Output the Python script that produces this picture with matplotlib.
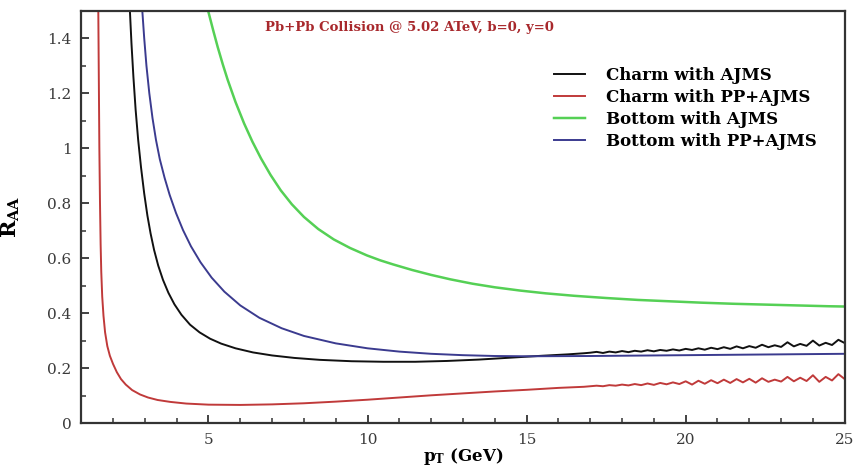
import numpy as np
import matplotlib
matplotlib.use('Agg')
from matplotlib import pyplot as plt
from matplotlib.ticker import MultipleLocator, FuncFormatter

plt.rcParams['font.family'] = ['DejaVu Serif']
plt.rcParams['mathtext.fontset'] = 'dejavuserif'

# Charm with AJMS
charm_ajms_pt = [2.50, 2.53, 2.58, 2.64, 2.71, 2.79, 2.88, 2.98, 3.08, 3.18,
                 3.29, 3.42, 3.57, 3.74, 3.93, 4.15, 4.42, 4.72, 5.05, 5.40,
                 5.85, 6.40, 7.0, 7.7, 8.5, 9.5, 10.5, 11.5, 12.5, 13.5, 14.5,
                 15.5, 16.3, 16.8]
charm_ajms_raa = [1.60, 1.50, 1.38, 1.26, 1.14, 1.03, 0.93, 0.835, 0.755,
                  0.69, 0.63, 0.573, 0.521, 0.474, 0.432, 0.394, 0.358, 0.330,
                  0.307, 0.289, 0.272, 0.257, 0.246, 0.237, 0.230, 0.225,
                  0.223, 0.223, 0.226, 0.231, 0.238, 0.245, 0.250, 0.254]

# Charm with PP+AJMS
charm_pp_pt = [1.53, 1.55, 1.57, 1.59, 1.61, 1.63, 1.66, 1.70, 1.75, 1.82,
               1.90, 2.00, 2.12, 2.25, 2.40, 2.60, 2.85, 3.10, 3.40, 3.80,
               4.30, 5.00, 6.0, 7.0, 8.0, 9.0, 10.0, 11.0, 12.0, 13.0, 14.0,
               15.0, 16.0, 16.8]
charm_pp_raa = [1.60, 1.30, 1.00, 0.80, 0.65, 0.55, 0.46, 0.39, 0.33, 0.28,
                0.245, 0.215, 0.185, 0.160, 0.140, 0.120, 0.104, 0.093, 0.084,
                0.077, 0.071, 0.067, 0.066, 0.068, 0.072, 0.078, 0.085, 0.093,
                0.101, 0.108, 0.115, 0.121, 0.128, 0.132]

# high-pT tails, 17 to 25 GeV
tail_pt = np.round(np.arange(17.0, 25.01, 0.2), 1)
charm_ajms_tail = [0.256, 0.259, 0.255, 0.260, 0.257, 0.262, 0.258, 0.263,
                   0.260, 0.265, 0.261, 0.266, 0.263, 0.268, 0.264, 0.270,
                   0.266, 0.272, 0.267, 0.274, 0.269, 0.276, 0.270, 0.279,
                   0.272, 0.280, 0.274, 0.285, 0.276, 0.283, 0.277, 0.294,
                   0.279, 0.288, 0.281, 0.300, 0.282, 0.292, 0.284, 0.303,
                   0.291]
charm_pp_tail = [0.134, 0.136, 0.134, 0.138, 0.136, 0.140, 0.137, 0.142,
                 0.138, 0.144, 0.139, 0.146, 0.141, 0.148, 0.142, 0.152,
                 0.140, 0.154, 0.143, 0.156, 0.145, 0.158, 0.146, 0.160,
                 0.148, 0.161, 0.147, 0.163, 0.150, 0.158, 0.151, 0.168,
                 0.152, 0.165, 0.153, 0.174, 0.150, 0.168, 0.155, 0.178,
                 0.160]

# Bottom with AJMS
bottom_ajms_pt = [4.93, 5.00, 5.15, 5.29, 5.45, 5.60, 5.85, 6.12, 6.38, 6.65,
                  6.95, 7.27, 7.62, 8.00, 8.45, 8.94, 9.45, 9.98, 10.4, 10.81,
                  11.4, 12.0, 12.6, 13.3, 14.0, 14.8, 15.6, 16.5, 17.5, 18.5,
                  19.5, 20.5, 21.5, 22.5, 23.5, 24.5, 25.0]
bottom_ajms_raa = [1.53, 1.495, 1.428, 1.368, 1.305, 1.250, 1.168, 1.090,
                   1.024, 0.963, 0.903, 0.847, 0.796, 0.750, 0.706, 0.668,
                   0.637, 0.610, 0.592, 0.577, 0.557, 0.539, 0.523, 0.507,
                   0.494, 0.482, 0.472, 0.463, 0.455, 0.448, 0.443, 0.438,
                   0.434, 0.431, 0.428, 0.425, 0.424]

# Bottom with PP+AJMS
bottom_pp_pt = [2.88, 2.92, 2.98, 3.05, 3.14, 3.24, 3.35, 3.47, 3.62, 3.78,
                3.98, 4.20, 4.45, 4.75, 5.10, 5.50, 6.00, 6.60, 7.30, 8.00,
                9.00, 10.0, 11.0, 12.0, 13.0, 14.0, 15.0, 17.0, 19.0, 21.0,
                23.0, 25.0]
bottom_pp_raa = [1.60, 1.50, 1.40, 1.30, 1.20, 1.11, 1.03, 0.96, 0.8925,
                 0.830, 0.764, 0.702, 0.643, 0.585, 0.529, 0.478, 0.428,
                 0.383, 0.345, 0.317, 0.290, 0.272, 0.260, 0.252, 0.247,
                 0.244, 0.243, 0.244, 0.246, 0.248, 0.250, 0.252]

fig = plt.figure(figsize=(8.55, 4.68), dpi=100)
ax = fig.add_axes([0.095, 0.096, 0.893, 0.881])

lw = 1.4
ax.plot(list(charm_ajms_pt) + list(tail_pt), charm_ajms_raa + charm_ajms_tail,
        color='#111111', lw=lw, label='Charm with AJMS')
ax.plot(list(charm_pp_pt) + list(tail_pt), charm_pp_raa + charm_pp_tail,
        color='#c03a3a', lw=lw, label='Charm with PP+AJMS')
ax.plot(bottom_ajms_pt, bottom_ajms_raa, color='#55d055', lw=lw + 0.4,
        label='Bottom with AJMS')
ax.plot(bottom_pp_pt, bottom_pp_raa, color='#3b3b8f', lw=lw,
        label='Bottom with PP+AJMS')

ax.set_xlim(1, 25)
ax.set_ylim(0, 1.5)
ax.xaxis.set_major_locator(MultipleLocator(5))
ax.xaxis.set_minor_locator(MultipleLocator(1))
ax.yaxis.set_major_locator(MultipleLocator(0.2))
ax.yaxis.set_minor_locator(MultipleLocator(0.1))
ax.yaxis.set_major_formatter(FuncFormatter(lambda v, p: '%g' % round(v, 2)))
ax.xaxis.set_major_formatter(FuncFormatter(lambda v, p: '' if v < 2 else '%g' % v))

ax.tick_params(which='both', direction='in', top=False, right=False,
               labelsize=11, labelcolor='#3a3a3a', color='#333333')
ax.tick_params(which='major', length=6, width=1.3, pad=7)
ax.tick_params(which='minor', length=3.5, width=1.1)
for s in ax.spines.values():
    s.set_linewidth(1.6)
    s.set_color('#333333')

ax.set_ylabel(r'$\mathbf{R_{AA}}$', fontsize=15)
ax.yaxis.set_label_coords(-0.078, 0.5)
ax.set_xlabel(r'$\mathbf{p_T}$ (GeV)', fontsize=12, fontweight='bold')
ax.xaxis.set_label_coords(0.5, -0.055)

ax.text(0.241, 0.96, 'Pb+Pb Collision @ 5.02 ATeV, b=0, y=0',
        transform=ax.transAxes, color='#a8282c', fontsize=9.5,
        fontweight='bold', va='center', ha='left')

ax.legend(loc='upper left', bbox_to_anchor=(0.60, 0.90), frameon=False,
          prop={'weight': 'bold', 'size': 12}, handlelength=1.85,
          handletextpad=1.25, labelspacing=0.3)

fig.savefig('out.png', dpi=100)
